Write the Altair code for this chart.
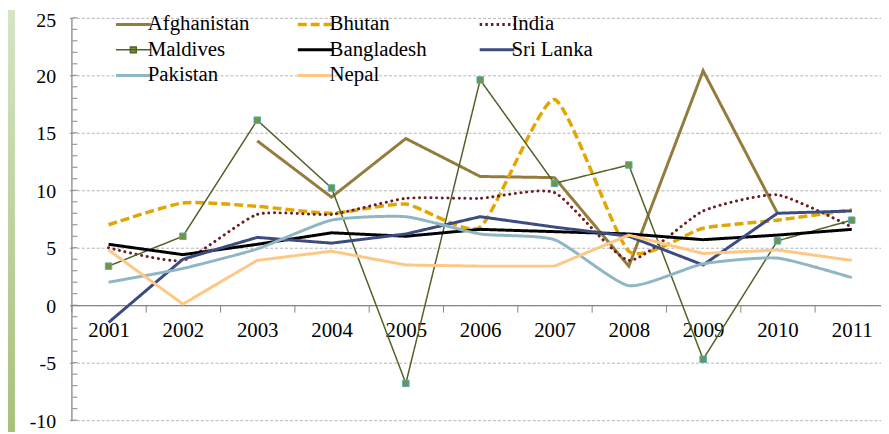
import altair as alt
import pandas as pd

years = list(range(2001, 2012))
countries = ["Afghanistan", "Bhutan", "India", "Maldives",
             "Bangladesh", "Sri Lanka", "Pakistan", "Nepal"]

afghanistan = [None, None, 14.3, 9.4, 14.5, 11.2, 11.1, 3.4, 20.4, 8.0, None]
bhutan      = [7.0, 8.9, 8.6, 8.0, 8.8, 6.8, 17.9, 4.7, 6.7, 7.4, 8.3]
india       = [5.0, 3.9, 7.9, 7.9, 9.3, 9.3, 9.8, 3.9, 8.2, 9.6, 6.8]
maldives    = [3.4, 6.0, 16.1, 10.2, -6.8, 19.6, 10.6, 12.2, -4.7, 5.6, 7.4]
bangladesh  = [5.3, 4.4, 5.3, 6.3, 6.0, 6.6, 6.4, 6.2, 5.7, 6.1, 6.6]
sri_lanka   = [-1.5, 4.0, 5.9, 5.4, 6.2, 7.7, 6.8, 6.0, 3.5, 8.0, 8.2]
pakistan    = [2.0, 3.2, 4.9, 7.4, 7.7, 6.2, 5.7, 1.7, 3.6, 4.1, 2.4]
nepal       = [4.8, 0.1, 3.9, 4.7, 3.5, 3.4, 3.4, 6.1, 4.5, 4.8, 3.9]

series = [afghanistan, bhutan, india, maldives, bangladesh, sri_lanka, pakistan, nepal]

colors = ["#937C3C", "#E3A600", "#6A2023", "#4F6228",
          "#000000", "#3D4C7E", "#8FB6C3", "#FDC885"]
widths = [3, 3.5, 3, 1.5, 3, 3, 3, 3]
dashes = [[1, 0], [9, 4], [0.1, 5.6], [1, 0], [1, 0], [1, 0], [1, 0], [1, 0]]
interps = ["linear", "cardinal", "cardinal", "linear",
           "linear", "linear", "cardinal", "linear"]

y_ticks = [-10, -5, 0, 5, 10, 15, 20, 25]
minor_ticks = list(range(-10, 26))
boundaries = [2000.5 + i for i in range(11)]

rows = []
for c, vals in zip(countries, series):
    for yr, v in zip(years, vals):
        if v is not None:
            rows.append({"country": c, "year": yr, "value": v})
df = pd.DataFrame(rows)

W, H = 817, 406
step = 75.0
zero_offset = -H * 10 / 35

FONT = "Liberation Serif, Times New Roman, Times, DejaVu Serif, serif"
GRAY = "#868686"

color_scale = alt.Scale(domain=countries, range=colors)
x_scale = alt.Scale(domain=[2000.5, 2000.5 + W / step], nice=False, zero=False)
y_scale = alt.Scale(domain=[-10, 25], nice=False, zero=False)

dash_expr = ("datum.value === 'Bhutan' ? [9, 4] : "
             "datum.value === 'India' ? [2.5, 3.2] : [1, 0]")
width_expr = ("datum.value === 'Bhutan' ? 3.5 : "
              "datum.value === 'Maldives' ? 1.5 : 3")
shape_expr = ("datum.value === 'Maldives' ? "
              "'M-1,0H1M-0.17,-0.17H0.17V0.17H-0.17Z' : 'stroke'")
fill_expr = "datum.value === 'Maldives' ? '#77933C' : 'transparent'"

legend = alt.Legend(
    title=None, orient="none", legendX=52, legendY=-4, columns=3,
    direction="horizontal",
    gridAlign="all", columnPadding=41.5, rowPadding=3.8, padding=0,
    symbolType={"expr": shape_expr}, symbolSize=1225,
    symbolStrokeWidth={"expr": width_expr},
    symbolDash={"expr": dash_expr},
    symbolFillColor={"expr": fill_expr},
    symbolOpacity=1,
    labelFont=FONT, labelFontSize=21, labelColor="black", labelOffset=4,
    labelLimit=300,
)

x_axis = alt.Axis(
    values=boundaries, title=None, grid=False, offset=zero_offset,
    labelExpr="format(datum.value + 0.5, 'd')", labelOffset=step / 2,
    labelFlush=False, labelBound=False, labelOverlap=False,
    labelFont=FONT, labelFontSize=21, labelColor="black", labelPadding=8,
    tickSize=7, tickColor=GRAY, domainColor=GRAY, domainWidth=1.3)
y_axis = alt.Axis(
    values=y_ticks, title=None, grid=True, gridColor="#B4B4B4",
    gridDash=[3, 2], gridWidth=1, labelExpr="datum.value + ''",
    labelOffset={"expr": "datum.value === 25 ? 2.5 : 1"},
    labelFlush=False, labelOverlap=False,
    labelFont=FONT, labelFontSize=20, labelColor="black", labelPadding=14,
    tickSize=2, tickColor=GRAY, domainColor=GRAY, domainWidth=1.3)


def xe(field="year"):
    return alt.X(f"{field}:Q", scale=x_scale, axis=x_axis)


def ye(field="value"):
    return alt.Y(f"{field}:Q", scale=y_scale, axis=y_axis)


layers = []

# decorative green slide strip on the left edge
strip = alt.Chart(pd.DataFrame({"k": [0]})).mark_rect(
    color=alt.LinearGradient(
        gradient="linear", x1=0, x2=0, y1=0, y2=1,
        stops=[alt.GradientStop(color="#D6E4C3", offset=0),
               alt.GradientStop(color="#A7C17C", offset=1)])
).encode(x=alt.value(-64), x2=alt.value(-57), y=alt.value(-8), y2=alt.value(418))
layers.append(strip)

# legend carrier (no data drawn)
empty = pd.DataFrame({"country": pd.Series([], dtype=str),
                      "year": pd.Series([], dtype=float),
                      "value": pd.Series([], dtype=float)})
carrier = alt.Chart(empty).mark_line().encode(
    x=xe(), y=ye(),
    color=alt.Color("country:N", scale=color_scale, legend=legend),
)
layers.append(carrier)

# inner minor ticks on the y axis
minor = alt.Chart(pd.DataFrame({"value": minor_ticks})).mark_rule(
    color=GRAY, strokeWidth=1
).encode(y=ye(), x=alt.value(1), x2=alt.value(6))
layers.append(minor)

for i, c in enumerate(countries):
    sub = df[df["country"] == c]
    props = dict(
        color=colors[i], strokeWidth=widths[i], strokeDash=dashes[i],
        interpolate=interps[i],
        strokeCap="round" if c == "India" else "butt",
        strokeJoin="round" if c == "India" else "miter",
    )
    if interps[i] == "cardinal":
        props["tension"] = 0.45
    line = alt.Chart(sub).mark_line(**props).encode(x=xe(), y=ye())
    layers.append(line)
    if c == "Maldives":
        pts = alt.Chart(sub).mark_point(
            shape="square", filled=True, fill="#77933C", stroke="#4BACC6",
            strokeWidth=1, size=42, opacity=1
        ).encode(x=xe(), y=ye())
        layers.append(pts)

chart = alt.layer(*layers).properties(
    width=W, height=H,
    padding={"left": 64, "top": 8, "right": 0, "bottom": 10},
    autosize=alt.AutoSizeParams(type="none"),
    background="white",
).configure(font=FONT).configure_view(stroke=None)

chart.save("out.html", embed_options={"renderer": "svg", "actions": False})
